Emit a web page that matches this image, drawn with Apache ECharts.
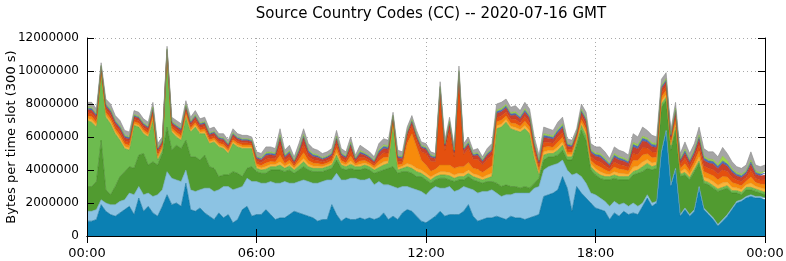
<!DOCTYPE html>
<html>
<head>
<meta charset="UTF-8">
<title>Source Country Codes</title>
<script src="https://cdn.jsdelivr.net/npm/echarts@6/dist/echarts.min.js"></script>
<style>html,body{margin:0;padding:0;background:#fff;}</style>
</head>
<body>
<div id="main" style="width:786px;height:261px;"></div>
<script>
// one value every 10 minutes, in millions of bytes per 300 s slot
var times = [];
for (var i = 0; i <= 144; i++) {
    var h = Math.floor(i / 6) % 24, m = (i % 6) * 10;
    times.push((h < 10 ? '0' : '') + h + ':' + (m < 10 ? '0' : '') + m);
}

var yTicks = [0, 2000000, 4000000, 6000000, 8000000, 10000000, 12000000];

var darkBlue = [0.9,0.9,1.0,1.9,1.5,1.3,1.2,1.4,1.6,1.8,
    1.3,2.3,1.5,1.8,1.4,1.2,1.8,2.5,1.9,2.0,
    1.8,3.2,1.6,1.5,1.7,1.4,1.2,1.0,1.4,1.1,
    1.3,0.8,1.0,1.6,1.8,1.2,1.3,1.3,1.6,1.3,
    1.0,1.1,1.1,1.3,1.5,1.4,1.3,1.2,1.1,0.9,
    1.0,1.0,1.9,1.3,0.9,1.1,1.0,1.0,1.1,1.0,
    1.1,1.0,1.1,1.4,1.0,1.2,1.0,1.4,1.6,1.5,
    1.2,0.9,0.8,1.0,1.2,1.5,1.2,1.3,1.3,1.3,
    1.5,1.9,1.2,0.9,1.0,1.1,1.1,1.2,1.1,1.0,
    1.2,1.1,1.1,1.0,1.1,1.2,1.3,2.4,2.5,2.6,
    2.8,3.6,2.9,1.5,3.0,2.6,2.3,2.0,1.7,1.6,
    1.5,1.0,1.4,1.2,1.5,1.3,1.4,1.3,1.8,2.3,
    1.8,2.0,5.0,6.3,3.0,4.0,1.2,1.6,1.2,1.5,
    2.9,1.6,1.3,1.0,0.6,0.9,1.2,1.6,2.0,2.1,
    2.3,2.4,2.3,2.3,2.2];

var lightBlue = [0.6,0.6,0.6,0.3,0.5,0.6,0.7,0.7,0.6,0.8,
    1.2,0.7,1.0,0.8,1.0,1.3,1.0,1.4,1.6,1.4,
    1.5,0.8,1.2,1.2,1.1,1.5,1.7,1.7,1.4,1.9,
    1.7,2.0,1.9,1.4,1.7,2.1,2.0,1.9,1.6,2.0,
    2.2,2.1,2.2,1.9,1.7,1.9,2.1,2.1,2.1,2.3,
    2.3,2.4,1.5,2.5,2.5,2.3,2.5,2.5,2.3,2.4,
    2.4,2.1,2.2,1.7,2.1,1.8,1.9,1.6,1.4,1.4,
    1.6,1.8,1.7,1.8,1.8,1.4,1.7,1.7,1.4,1.5,
    1.5,1.0,1.6,1.7,1.7,1.6,1.7,1.4,1.3,1.5,
    1.3,1.5,1.5,1.6,1.5,1.7,1.7,1.6,1.7,1.7,
    1.6,1.0,1.1,2.2,0.8,1.0,0.9,0.6,0.8,0.7,
    0.6,0.8,0.7,0.7,0.5,0.5,0.6,0.5,0.2,0.2,
    0.2,0.1,0.1,0.1,0.1,0.1,0.1,0.1,0.1,0.1,
    0.1,0.1,0.1,0.1,0.1,0.1,0.1,0.1,0.1,0.1,
    0.1,0.1,0.1,0.1,0.1];

var darkGreen = [1.5,1.5,1.7,3.6,0.8,0.6,1.1,1.5,1.7,1.6,
    1.6,1.9,2.5,1.7,2.1,1.8,2.2,2.7,1.7,2.1,
    2.0,1.8,2.0,2.1,1.8,2.0,1.3,1.4,0.8,0.7,
    0.7,1.1,0.9,0.6,0.6,0.9,0.6,0.6,0.6,0.7,
    0.8,0.8,0.6,0.8,0.6,0.7,0.8,0.7,0.7,0.7,
    0.6,0.6,0.7,0.8,0.7,0.6,0.6,0.5,0.6,0.7,
    0.5,0.7,0.6,0.9,1.0,1.2,0.9,0.9,0.9,0.9,
    0.8,0.9,0.9,0.4,0.4,0.6,0.6,0.4,0.6,0.6,
    0.4,0.7,0.6,0.7,0.5,0.6,0.5,0.6,0.6,0.6,
    0.5,0.4,0.3,0.4,0.3,0.3,0.5,0.6,0.6,0.5,
    0.5,0.6,0.6,0.9,1.7,2.8,2.6,1.4,1.2,1.2,
    1.3,1.6,1.4,1.5,1.4,1.6,1.7,2.0,1.9,1.6,
    2.0,2.0,2.7,1.8,2.1,2.3,2.3,2.0,2.1,2.3,
    1.4,1.5,1.7,1.8,2.0,1.8,1.6,0.9,0.5,0.3,
    0.4,0.3,0.3,0.2,0.2];

var lightGreen = [4.0,3.9,3.3,4.1,4.4,4.3,3.2,2.2,1.4,1.0,
    2.6,1.7,1.2,1.7,2.5,0.3,0.2,4.3,1.1,0.5,
    0.5,1.4,1.5,1.8,1.6,1.3,1.4,1.6,1.8,1.6,
    1.3,1.7,1.6,1.7,1.2,1.1,0.2,0.2,0.25,0.2,
    0.2,0.3,0.2,0.25,0.2,0.25,0.3,0.2,0.2,0.2,
    0.2,0.2,0.2,0.3,0.2,0.2,0.25,0.2,0.2,0.2,
    0.2,0.2,0.25,0.3,0.3,2.6,0.2,0.2,0.3,0.3,
    0.3,0.2,0.2,0.2,0.2,0.2,0.2,0.25,0.2,0.2,
    0.2,0.2,0.2,0.2,0.2,0.2,0.3,3.3,3.6,3.8,
    3.5,3.4,3.4,3.5,3.3,1.5,0.2,0.3,0.2,0.2,
    0.3,0.3,0.2,0.2,0.2,0.3,0.3,0.2,0.2,0.2,
    0.2,0.2,0.2,0.2,0.2,0.2,0.2,0.2,0.3,0.3,
    0.2,0.2,0.2,0.2,0.2,0.2,0.15,0.15,0.15,0.15,
    0.15,0.15,0.15,0.15,0.15,0.15,0.15,0.15,0.15,0.15,
    0.15,0.15,0.15,0.15,0.15];

var yellowOrange = [.13,.14,.13,.07,.13,.14,.13,.14,.13,.13,
    .10,.10,.10,.10,.13,.12,.10,.07,.10,.12,
    .12,.12,.10,.12,.10,.12,.10,.10,.10,.10,
    .10,.10,.10,.10,.10,.08,.12,.12,.16,.14,
    .13,.20,.13,.15,.10,.16,.20,.16,.14,.13,
    .10,.10,.12,.18,.12,.10,.20,.08,.15,.12,
    .10,.10,.17,.20,.16,.08,.14,.12,.20,.20,
    .20,.20,.20,.18,.15,.20,.20,.20,.20,.20,
    .20,.20,.18,.20,.15,.20,.20,.18,.18,.16,
    .15,.18,.15,.20,.18,.15,.14,.20,.18,.16,
    .20,.20,.13,.12,.10,.15,.16,.16,.18,.20,
    .18,.13,.20,.20,.18,.15,.28,.24,.29,.24,
    .23,.20,.18,.18,.12,.18,.15,.22,.17,.19,
    .25,.23,.22,.25,.23,.27,.22,.21,.17,.17,
    .16,.26,.17,.17,.20];

var orange = [.16,.18,.16,.08,.16,.18,.16,.18,.16,.16,
    .13,.13,.13,.13,.16,.15,.12,.08,.13,.15,
    .15,.15,.13,.15,.13,.15,.13,.13,.12,.13,
    .12,.13,.12,.12,.12,.10,.15,.15,.21,.18,
    .16,.40,.16,.19,.12,.21,.35,.22,.18,.16,
    .13,.13,.15,.24,.15,.13,.30,.10,.20,.15,
    .13,.12,.23,.26,.22,.10,.18,.15,1.2,1.9,
    1.3,.60,.50,.35,.30,.40,.40,.45,.40,.40,
    .40,.45,.32,.35,.30,.35,.45,.24,.24,.22,
    .20,.24,.20,.26,.24,.20,.18,.28,.24,.22,
    .28,.28,.16,.15,.12,.20,.22,.22,.24,.28,
    .24,.16,.28,.26,.24,.20,.40,.34,.42,.34,
    .32,.28,.24,.24,.15,.24,.19,.31,.23,.25,
    .35,.33,.31,.35,.33,.39,.31,.29,.23,.23,
    .21,.37,.23,.23,.27];

var redOrange = [.19,.20,.19,.10,.19,.20,.19,.20,.19,.19,
    .15,.15,.15,.15,.19,.17,.13,.10,.15,.17,
    .17,.17,.15,.17,.15,.17,.15,.15,.13,.15,
    .13,.15,.13,.13,.13,.12,.17,.17,.23,.20,
    .19,.60,.19,.21,.13,.23,.50,.24,.20,.19,
    .15,.15,.17,.30,.17,.15,.35,.12,.22,.17,
    .15,.13,.25,.28,.24,.12,.20,.17,.40,.50,
    .40,.50,.70,.60,.45,4.3,.90,2.1,.70,5.3,
    .75,.85,.55,.60,.45,.60,.65,.26,.26,.24,
    .22,.26,.22,.28,.26,.22,.20,.30,.26,.24,
    .30,.30,.19,.17,.13,.22,.24,.24,.26,.30,
    .26,.19,.30,.28,.26,.22,.42,.36,.44,.36,
    .34,.30,.26,.26,.17,.26,.21,.33,.25,.27,
    .37,.35,.33,.37,.35,.41,.33,.31,.25,.25,
    .23,.39,.25,.25,.29];

var red = [.18,.20,.18,.10,.18,.20,.18,.20,.18,.18,
    .15,.15,.15,.15,.18,.16,.13,.10,.15,.16,
    .16,.16,.15,.16,.15,.16,.15,.15,.13,.15,
    .13,.15,.13,.13,.13,.12,.16,.16,.23,.20,
    .18,.40,.18,.21,.13,.23,.40,.24,.20,.18,
    .15,.15,.16,.25,.16,.15,.30,.12,.22,.16,
    .15,.13,.24,.26,.24,.12,.20,.16,.20,.20,
    .20,.25,.25,.25,.20,.30,.25,.40,.25,.35,
    .25,.25,.20,.25,.20,.25,.25,.25,.25,.24,
    .22,.25,.22,.26,.25,.22,.20,.28,.25,.24,
    .28,.28,.18,.16,.13,.22,.24,.24,.25,.28,
    .25,.18,.28,.26,.25,.22,.39,.34,.41,.34,
    .32,.28,.25,.25,.16,.25,.21,.31,.24,.26,
    .35,.33,.31,.35,.33,.38,.31,.29,.24,.24,
    .23,.37,.24,.24,.27];

var blue = [.09,.10,.09,.05,.09,.10,.09,.10,.09,.09,
    .07,.07,.07,.07,.09,.08,.07,.05,.07,.08,
    .08,.08,.07,.08,.07,.08,.07,.07,.07,.07,
    .07,.07,.07,.07,.07,.06,.08,.08,.10,.10,
    .09,.12,.09,.10,.07,.10,.10,.11,.10,.09,
    .07,.07,.08,.10,.08,.07,.10,.06,.10,.08,
    .07,.07,.11,.12,.11,.06,.10,.08,.08,.08,
    .08,.08,.08,.08,.08,.10,.08,.10,.08,.10,
    .08,.10,.08,.08,.07,.08,.08,.11,.11,.11,
    .10,.11,.10,.12,.11,.10,.10,.13,.11,.11,
    .13,.13,.09,.08,.07,.10,.11,.11,.11,.13,
    .11,.09,.13,.12,.11,.10,.15,.14,.16,.14,
    .14,.13,.11,.11,.08,.11,.10,.14,.11,.11,
    .14,.14,.14,.14,.14,.15,.14,.13,.11,.11,
    .10,.15,.11,.11,.12];

var lime = [.07,.08,.07,.05,.07,.08,.07,.08,.07,.07,
    .06,.06,.06,.06,.07,.07,.05,.05,.06,.07,
    .07,.07,.06,.07,.06,.07,.06,.06,.05,.06,
    .05,.06,.05,.05,.05,.05,.07,.07,.09,.08,
    .07,.10,.07,.08,.05,.09,.10,.10,.08,.07,
    .06,.06,.07,.08,.07,.06,.08,.05,.09,.07,
    .06,.05,.10,.10,.10,.05,.08,.07,.07,.07,
    .07,.07,.07,.06,.06,.07,.07,.07,.07,.07,
    .07,.07,.07,.07,.06,.07,.07,.10,.10,.10,
    .09,.10,.09,.10,.10,.09,.08,.11,.10,.10,
    .11,.11,.07,.07,.05,.09,.10,.10,.10,.11,
    .10,.07,.11,.10,.10,.09,.13,.12,.13,.12,
    .11,.11,.10,.10,.07,.10,.08,.11,.10,.10,
    .12,.12,.11,.12,.12,.30,.20,.11,.10,.10,
    .09,.12,.10,.10,.11];

var gray = [.28,.30,.28,.15,.28,.30,.28,.30,.28,.28,
    .24,.24,.24,.24,.28,.25,.20,.15,.24,.25,
    .25,.25,.24,.25,.24,.25,.24,.24,.20,.24,
    .20,.24,.20,.20,.20,.17,.25,.25,.33,.30,
    .28,.38,.28,.31,.20,.33,.35,.33,.30,.28,
    .24,.24,.25,.35,.25,.24,.32,.17,.32,.25,
    .24,.20,.35,.38,.33,.17,.30,.25,.25,.25,
    .25,.20,.20,.18,.16,.28,.20,.23,.20,.28,
    .25,.28,.20,.25,.17,.25,.30,.36,.36,.33,
    .32,.36,.32,.38,.36,.32,.30,.40,.36,.33,
    .40,.40,.28,.25,.20,.32,.33,.33,.36,.40,
    .36,.28,.40,.38,.36,.32,.53,.46,.55,.46,
    .44,.40,.36,.36,.25,.36,.31,.43,.35,.37,
    .47,.45,.43,.47,.45,.52,.43,.41,.35,.35,
    .33,.49,.35,.35,.39];

var layers = [
    ['cc01', darkBlue,     '#0b80b3', '#076b96'],
    ['cc02', lightBlue,    '#8cc3e3', '#6fa8c9'],
    ['cc03', darkGreen,    '#519b30', '#3f7f23'],
    ['cc04', lightGreen,   '#6dbb4f', '#58a03c'],
    ['cc05', yellowOrange, '#f9b43a', '#e09a25'],
    ['cc06', orange,       '#f78b0c', '#d87508'],
    ['cc07', redOrange,    '#e4500f', '#c4400a'],
    ['cc08', red,          '#c9412c', '#a83322'],
    ['cc09', blue,         '#4b6fbf', '#3a5aa0'],
    ['cc10', lime,         '#9dd44a', '#82b838'],
    ['cc11', gray,         '#a5a5a5', '#8a8a8a']
];

var font = 'DejaVu Sans';

var chart = echarts.init(document.getElementById('main'));

var option = {
    animation: false,
    backgroundColor: '#fff',
    title: {
        text: 'Source Country Codes (CC) -- 2020-07-16 GMT',
        left: 426,
        textAlign: 'center',
        top: 2,
        textStyle: {fontFamily: font, fontSize: 15, fontWeight: 'normal', color: '#000'}
    },
    grid: {left: 87, right: 21, top: 38, bottom: 25, outerBoundsMode: 'none', containLabel: false},
    xAxis: [
        {
            type: 'category', data: times, boundaryGap: false, position: 'bottom', z: 10,
            axisLine: {show: true, lineStyle: {color: '#000', width: 1}},
            axisTick: {show: true, inside: true, interval: 35, length: 7, lineStyle: {color: '#000'}},
            axisLabel: {interval: 35, color: '#000', fontFamily: font, fontSize: 13, margin: 11},
            splitLine: {show: false}
        },
        {
            type: 'category', data: times, boundaryGap: false, position: 'top',
            axisLine: {show: true, lineStyle: {color: '#000', width: 1}},
            axisTick: {show: true, inside: true, interval: 35, length: 7, lineStyle: {color: '#000'}},
            axisLabel: {show: false},
            splitLine: {show: true, interval: 35, lineStyle: {color: '#a8a8a8', type: [1, 3], width: 1}}
        }
    ],
    yAxis: [
        {
            type: 'value', min: yTicks[0], max: yTicks[yTicks.length - 1], interval: yTicks[1] - yTicks[0],
            position: 'left', z: 10,
            name: 'Bytes per time slot (300 s)', nameLocation: 'middle', nameGap: 69, nameRotate: 90,
            nameMoveOverlap: false,
            nameTextStyle: {fontFamily: font, fontSize: 13, color: '#000'},
            axisLine: {show: true, lineStyle: {color: '#000', width: 1}},
            axisTick: {show: true, inside: true, length: 7, lineStyle: {color: '#000'}},
            axisLabel: {color: '#000', fontFamily: font, fontSize: 12, margin: 8,
                formatter: function (v) { return String(v); }},
            splitLine: {show: false}
        },
        {
            type: 'value', min: yTicks[0], max: yTicks[yTicks.length - 1], interval: yTicks[1] - yTicks[0],
            position: 'right',
            axisLine: {show: true, lineStyle: {color: '#000', width: 1}},
            axisTick: {show: true, inside: true, length: 7, lineStyle: {color: '#000'}},
            axisLabel: {show: false},
            splitLine: {show: true, lineStyle: {color: '#a8a8a8', type: [1, 3], width: 1}}
        }
    ],
    series: layers.map(function (l) {
        return {
            name: l[0],
            type: 'line',
            stack: 'cc',
            xAxisIndex: 0,
            yAxisIndex: 0,
            symbol: 'none',
            smooth: false,
            data: l[1].map(function (v) { return Math.round(v * 1000000); }),
            lineStyle: {color: l[3], width: 0.6},
            areaStyle: {color: l[2], opacity: 1}
        };
    })
};

chart.setOption(option);
</script>
</body>
</html>
